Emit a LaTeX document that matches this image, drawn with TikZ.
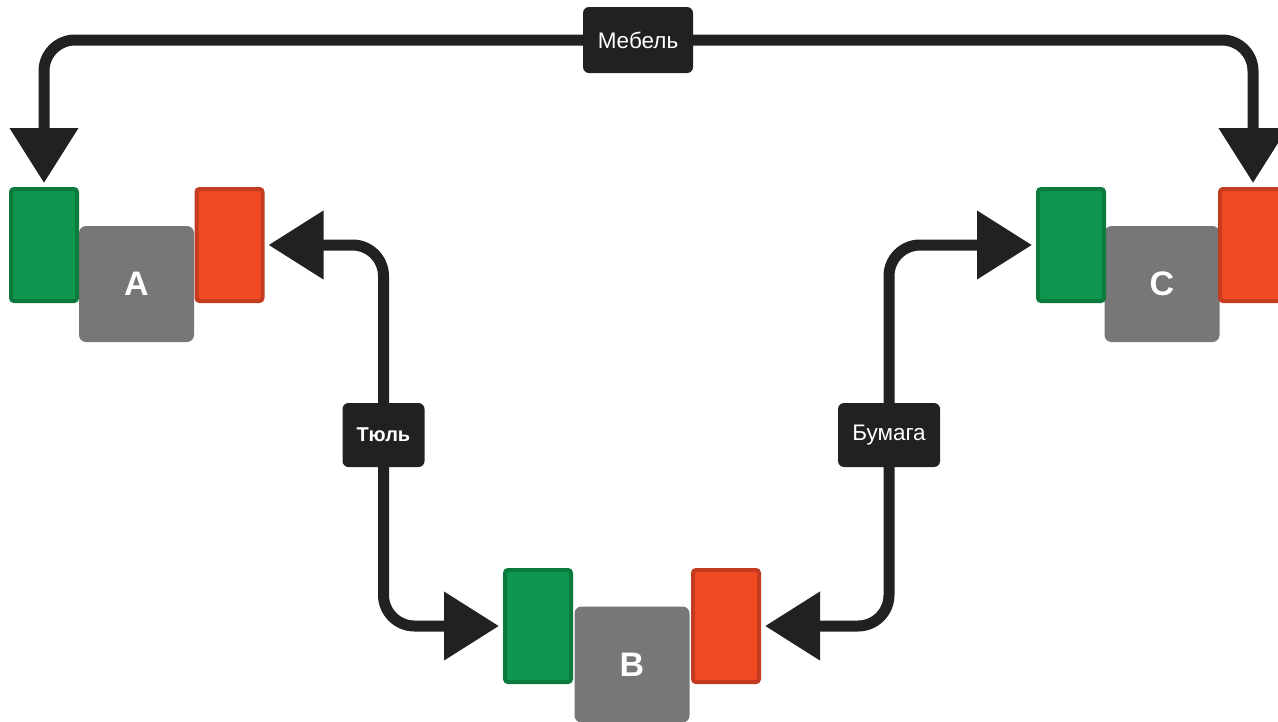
\documentclass[tikz,border=0pt]{standalone}
\usepackage{fontspec}
\setmainfont{Liberation Sans}
\usetikzlibrary{arrows.meta}
\definecolor{ink}{HTML}{212121}
\definecolor{gfill}{HTML}{10964F}
\definecolor{gline}{HTML}{0B7A3D}
\definecolor{rfill}{HTML}{F04A22}
\definecolor{rline}{HTML}{C43B1F}
\definecolor{body}{HTML}{777777}
\tikzset{
  inport/.style={draw=gline, fill=gfill, line width=4pt, rounded corners=3pt,
    minimum width=66pt, minimum height=112pt, inner sep=0pt, outer sep=0pt},
  outport/.style={draw=rline, fill=rfill, line width=4pt, rounded corners=3pt,
    minimum width=66pt, minimum height=112pt, inner sep=0pt, outer sep=0pt},
  core/.style={fill=body, rounded corners=7pt, minimum width=115pt, minimum height=116pt,
    inner sep=0pt, outer sep=0pt, text=white, font=\bfseries\fontsize{34}{34}\selectfont},
  conn/.style={draw=ink, line width=11pt, rounded corners=31pt,
    {Triangle[length=55pt,width=66pt]}-{Triangle[length=55pt,width=66pt]},
    shorten <=6pt, shorten >=6pt},
  tag/.style={fill=ink, rounded corners=6pt, text=white, inner sep=0pt,
    minimum height=64pt, font=\fontsize{22.5}{22.5}\selectfont},
}
\begin{document}
\begin{tikzpicture}[x=1pt,y=-1pt]
\useasboundingbox (0,0) rectangle (1278,721);
% node A
\node[core] (Ab) at (136.5,284) {A};
\node[inport] (Ag) at (44,245) {};
\node[outport] (Ar) at (229.5,245) {};
% node B
\node[core] (Bb) at (632,664.5) {B};
\node[inport] (Bg) at (538,626) {};
\node[outport] (Br) at (726,626) {};
% node C
\node[core] (Cb) at (1162,284) {C};
\node[inport] (Cg) at (1071,245) {};
\node[outport] (Cr) at (1253,245) {};
% label anchors
\coordinate (mtop) at (638,40);
\coordinate (tcol) at (383.5,435);
\coordinate (bcol) at (889,435);
% connectors
\draw[conn] (Ag.north) -- (Ag.north |- mtop) -- (Cr.north |- mtop) -- (Cr.north);
\draw[conn] (Ar.east) -- (Ar.east -| tcol) -- (Bg.west -| tcol) -- (Bg.west);
\draw[conn] (Br.east) -- (Br.east -| bcol) -- (Cg.west -| bcol) -- (Cg.west);
% labels
\node[tag, minimum width=110pt, minimum height=66pt] (lm) at (mtop) {Мебель};
\node[tag, minimum width=82pt, font=\bfseries\fontsize{20}{20}\selectfont] (lt) at (tcol) {Тюль};
\node[tag, minimum width=102pt] (lb) at (bcol) {Бумага};
\end{tikzpicture}
\end{document}
